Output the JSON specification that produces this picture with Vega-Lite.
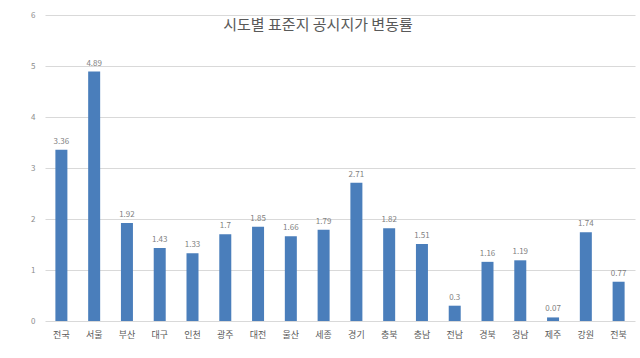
{
  "$schema": "https://vega.github.io/schema/vega-lite/v6.json",
  "width": 590,
  "height": 306,
  "autosize": {"type": "none"},
  "padding": {"left": 45, "top": 15, "right": 5, "bottom": 37},
  "background": "white",
  "config": {"view": {"stroke": null}, "font": "Noto Sans CJK KR"},
  "title": {
    "text": "시도별 표준지 공시지가 변동률",
    "fontSize": 15,
    "fontWeight": "normal",
    "color": "#595959",
    "font": "Noto Sans CJK KR",
    "offset": -22,
    "dx": -22,
    "anchor": "middle"
  },
  "data": {
    "values": [
      {"region": "전국", "rate": 3.36},
      {"region": "서울", "rate": 4.89},
      {"region": "부산", "rate": 1.92},
      {"region": "대구", "rate": 1.43},
      {"region": "인천", "rate": 1.33},
      {"region": "광주", "rate": 1.7},
      {"region": "대전", "rate": 1.85},
      {"region": "울산", "rate": 1.66},
      {"region": "세종", "rate": 1.79},
      {"region": "경기", "rate": 2.71},
      {"region": "충북", "rate": 1.82},
      {"region": "충남", "rate": 1.51},
      {"region": "전남", "rate": 0.3},
      {"region": "경북", "rate": 1.16},
      {"region": "경남", "rate": 1.19},
      {"region": "제주", "rate": 0.07},
      {"region": "강원", "rate": 1.74},
      {"region": "전북", "rate": 0.77}
    ]
  },
  "encoding": {
    "x": {
      "field": "region",
      "type": "nominal",
      "sort": null,
      "title": null,
      "axis": {
        "labelAngle": 0,
        "ticks": false,
        "domain": false,
        "labelPadding": 9,
        "labelFontSize": 9,
        "labelColor": "#595959",
        "labelFont": "Noto Sans CJK KR"
      }
    },
    "y": {
      "field": "rate",
      "type": "quantitative",
      "title": null,
      "scale": {"domain": [0, 6], "nice": false},
      "axis": {
        "values": [0, 1, 2, 3, 4, 5, 6],
        "ticks": false,
        "domain": false,
        "labelPadding": 10,
        "labelFontSize": 8,
        "labelColor": "#8c8c8c",
        "gridColor": "#d9d9d9",
        "gridWidth": 1
      }
    }
  },
  "layer": [
    {"mark": {"type": "bar", "color": "#4a7ebb", "size": 12}},
    {
      "mark": {"type": "text", "dy": -8, "fontSize": 8, "color": "#7f7f7f"},
      "encoding": {"text": {"field": "rate", "type": "quantitative"}}
    }
  ]
}
